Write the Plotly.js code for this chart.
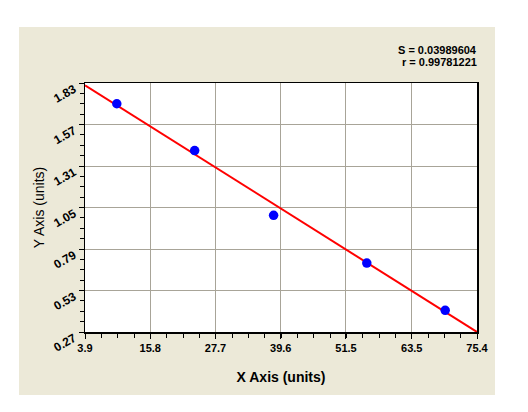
<!DOCTYPE html>
<html>
<head>
<meta charset="utf-8">
<script src="https://cdn.plot.ly/plotly-3.0.1.min.js"></script>
<style>
html,body{margin:0;padding:0;background:#ffffff;width:528px;height:412px;overflow:hidden;}
#chart{position:absolute;left:19px;top:27px;width:476px;height:368px;}
</style>
</head>
<body>
<div id="chart"></div>
<script>
// Data
const xData = [9.7, 23.9, 38.3, 55.3, 69.6];
const yData = [1.70, 1.407, 1.001, 0.702, 0.406];
const fitX = [3.9, 75.4];
const fitY = [1.816, 0.27];
const xTicks = [3.9, 15.8, 27.7, 39.6, 51.5, 63.5, 75.4];
const xTickLabels = ["3.9", "15.8", "27.7", "39.6", "51.5", "63.5", "75.4"];
const yTicks = [0.27, 0.53, 0.79, 1.05, 1.31, 1.57, 1.83];
const yTickLabels = ["0.27", "0.53", "0.79", "1.05", "1.31", "1.57", "1.83"];
const statLines = ["S = 0.03989604", "r = 0.99781221"];

const font = "Arial, 'Liberation Sans', sans-serif";

const traces = [
  {
    x: fitX, y: fitY, type: 'scatter', mode: 'lines',
    line: {color: '#ff0000', width: 2}, hoverinfo: 'skip', showlegend: false
  },
  {
    x: xData, y: yData, type: 'scatter', mode: 'markers',
    marker: {color: '#0000ff', size: 9.5, line: {width: 0}}, showlegend: false
  }
];

const axisCommon = {
  showline: true, linecolor: '#000000', linewidth: 1.5, mirror: true,
  showgrid: true, gridcolor: '#a8a498', gridwidth: 1,
  zeroline: false, ticks: 'outside', ticklen: 5, tickwidth: 1, tickcolor: '#000000',
  tickfont: {family: font, size: 11, color: '#000000', weight: 'bold'}
};

const layout = {
  width: 476, height: 368,
  paper_bgcolor: '#ece9d8', plot_bgcolor: '#ffffff',
  margin: {l: 66, r: 18, t: 56, b: 63, pad: 0},
  showlegend: false,
  xaxis: Object.assign({}, axisCommon, {
    range: [3.9, 75.4], tickmode: 'array', tickvals: xTicks, ticktext: xTickLabels,
    minor: {dtick: 11.9167/4, tick0: 3.9, ticks: 'outside', ticklen: 4, tickcolor: '#000000', showgrid: false},
    title: {text: 'X Axis (units)', font: {family: font, size: 14, color: '#000000', weight: 'bold'}, standoff: 19}
  }),
  yaxis: Object.assign({}, axisCommon, {
    range: [0.27, 1.83], tickmode: 'array', tickvals: yTicks, ticktext: yTickLabels,
    tickangle: -30, ticklabelshift: 5, ticklabelstandoff: 2,
    tickfont: {family: font, size: 12, color: '#000000', weight: 'bold'},
    minor: {dtick: 0.065, tick0: 0.27, ticks: 'outside', ticklen: 4, tickcolor: '#000000', showgrid: false},
    title: {text: 'Y Axis (units)', font: {family: font, size: 14, color: '#000000'}, standoff: 3}
  }),
  annotations: [
    {xref: 'paper', yref: 'paper', x: 1, y: 1, xanchor: 'right', yanchor: 'middle', xshift: 2, yshift: 33,
     text: statLines[0], showarrow: false, font: {family: font, size: 11, color: '#000000', weight: 'bold'}},
    {xref: 'paper', yref: 'paper', x: 1, y: 1, xanchor: 'right', yanchor: 'middle', xshift: 2, yshift: 21,
     text: statLines[1], showarrow: false, font: {family: font, size: 11, color: '#000000', weight: 'bold'}}
  ]
};

Plotly.newPlot('chart', traces, layout, {displayModeBar: false, staticPlot: true});
</script>
</body>
</html>
